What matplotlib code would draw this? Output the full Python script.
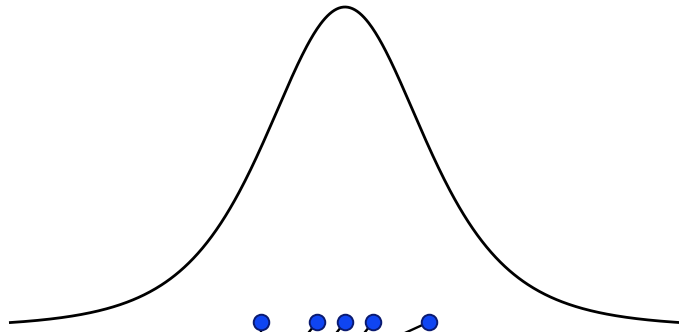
import numpy as np
import matplotlib
matplotlib.use("Agg")
import matplotlib.pyplot as plt
from math import gamma, pi, sqrt

# Observations shown as pins along the bottom
samples = [-3.0, -1.0, 0.0, 1.0, 3.0]
# Where each pin's stem heads off below the baseline
stem_targets = [-3.0, -1.85, -0.85, 0.15, 0.65]

# Student-t density parameters for the smooth curve
t_loc = 0.0
t_scale = 2.95
t_df = 4.0
curve_span = (-12.0, 12.5)


def t_pdf(x, loc, scale, df):
    z = (x - loc) / scale
    c = gamma((df + 1) / 2) / (sqrt(df * pi) * gamma(df / 2))
    return c * (1 + z ** 2 / df) ** (-(df + 1) / 2) / scale


W, H = 679, 332
fig = plt.figure(figsize=(W / 100, H / 100), dpi=100)
ax = fig.add_axes([0, 0, 1, 1])
ax.set_axis_off()

peak = t_pdf(t_loc, t_loc, t_scale, t_df)
px = peak / 321.0           # data units per vertical pixel
ux = 1 / 28.0               # data units per horizontal pixel
ax.set_xlim(-345 * ux, (W - 345) * ux)
ax.set_ylim(-4 * px, peak + 7 * px)

xs = np.linspace(curve_span[0], curve_span[1], 600)
ax.plot(xs, t_pdf(xs, t_loc, t_scale, t_df), color="black", lw=2.0,
        solid_capstyle="butt", zorder=2)

pin_y = 6 * px
stem_y = -24 * px
for s, t in zip(samples, stem_targets):
    ax.plot([s, t], [pin_y, stem_y], color="black", lw=1.7, zorder=3)
ax.plot(samples, [pin_y] * len(samples), linestyle="none", marker="o",
        markersize=11.2, markerfacecolor="#0f45f2", markeredgecolor="#0a1a70",
        markeredgewidth=1.4, zorder=4)

fig.savefig("out.png", dpi=100, facecolor="white")
